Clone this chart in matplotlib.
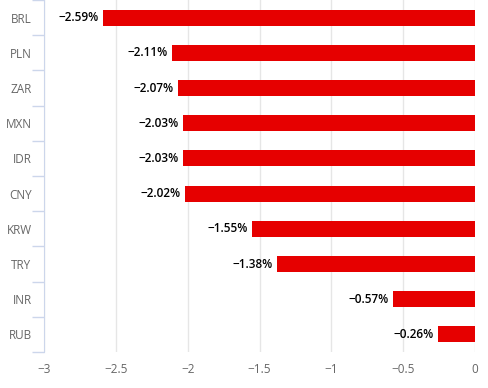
import matplotlib
matplotlib.use("Agg")
import matplotlib.pyplot as plt
import numpy as np

currencies = ["BRL", "PLN", "ZAR", "MXN", "IDR", "CNY", "KRW", "TRY", "INR", "RUB"]
changes = [-2.59, -2.11, -2.07, -2.03, -2.03, -2.02, -1.55, -1.38, -0.57, -0.26]
xticks = [-3, -2.5, -2, -1.5, -1, -0.5, 0]
xtick_labels = ["\u22123", "\u22122.5", "\u22122", "\u22121.5", "\u22121", "\u22120.5", "0"]

plt.rcParams['font.family'] = ['Open Sans', 'DejaVu Sans']

fig = plt.figure(figsize=(4.88, 3.88), dpi=100)
ax = fig.add_axes([44/488, 36/388, (475-44)/488, 352/388])

n = len(currencies)
y = np.arange(n)
ax.barh(y, changes, height=0.46, color="#e60000", zorder=3)
ax.set_ylim(n - 0.5, -0.5)
ax.set_xlim(-3, 0)

for yi, v in zip(y, changes):
    ax.text(v - 0.03, yi, f"\u2212{abs(v):.2f}%", ha="right", va="center",
            fontsize=8.5, color="#000000", fontweight="semibold", zorder=4)

ax.set_xticks(xticks)
ax.set_xticklabels(xtick_labels, fontsize=8.5, color="#666666")
ax.xaxis.grid(True, color="#e6e6e6", linewidth=1, zorder=0)
ax.tick_params(axis="x", length=0, pad=8)

ax.set_yticks(y)
ax.set_yticklabels(currencies, fontsize=8.5, color="#666666")
ax.tick_params(axis="y", which="major", length=0, pad=9)
ax.set_yticks(np.arange(-0.5, n, 1.0), minor=True)
ax.tick_params(axis="y", which="minor", length=9, color="#ccd6eb", width=1)

for s in ["top", "right", "bottom"]:
    ax.spines[s].set_visible(False)
ax.spines["left"].set_color("#ccd6eb")

fig.savefig("out.png", dpi=100)
